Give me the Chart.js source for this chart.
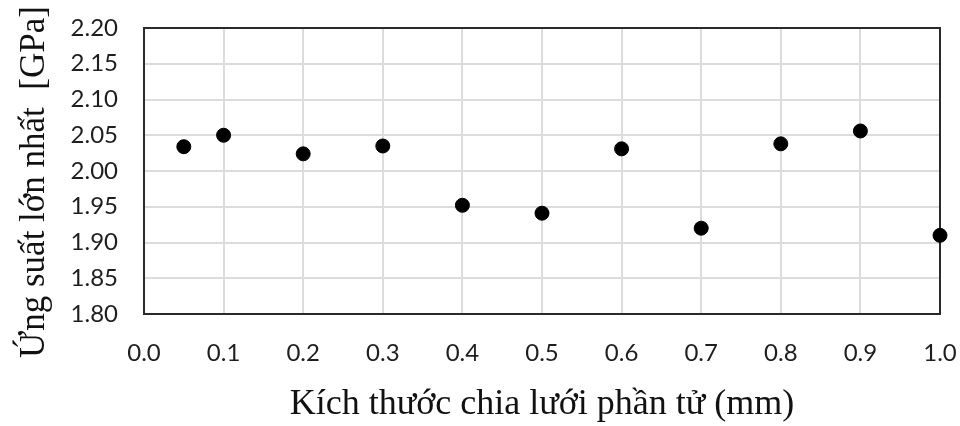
<!DOCTYPE html>
<html>
<head>
<meta charset="utf-8">
<script src="https://cdn.jsdelivr.net/npm/chart.js@4.4.0/dist/chart.umd.min.js"></script>
<style>
  body { margin: 0; background: #fff; }
</style>
</head>
<body>
<div style="width:960px;height:426px"><canvas id="stressChart"></canvas></div>
<script>
// mesh size (mm) vs max stress (GPa)
var meshSize = [0.05, 0.1, 0.2, 0.3, 0.4, 0.5, 0.6, 0.7, 0.8, 0.9, 1.0];
var maxStress = [2.034, 2.050, 2.024, 2.035, 1.952, 1.941, 2.031, 1.920, 2.038, 2.056, 1.910];

var xTitle = 'Kích thước chia lưới phần tử (mm)';
var yTitle = 'Ứng suất lớn nhất  [GPa]';

// frame around the plot area + y title (drawn by hand so it isn't squeezed to the axis height)
var framePlugin = {
  id: 'frame',
  beforeDatasetsDraw: function (chart) {
    var a = chart.chartArea, ctx = chart.ctx;
    ctx.save();
    ctx.strokeStyle = '#2a2a2a';
    ctx.lineWidth = 2;
    ctx.strokeRect(a.left, a.top, a.right - a.left, a.bottom - a.top);
    ctx.restore();
  },
  afterDraw: function (chart) {
    var ctx = chart.ctx;
    ctx.save();
    ctx.translate(35, 182);
    ctx.rotate(-Math.PI / 2);
    ctx.font = '35px "Liberation Serif"';
    ctx.fillStyle = '#111';
    ctx.textAlign = 'center';
    ctx.textBaseline = 'middle';
    ctx.fillText(yTitle, 0, 0);
    ctx.restore();
  }
};

var pts = meshSize.map(function (x, i) { return { x: x, y: maxStress[i] }; });

new Chart(document.getElementById('stressChart'), {
  type: 'scatter',
  data: {
    datasets: [{
      data: pts,
      backgroundColor: '#000',
      borderColor: '#000',
      pointRadius: 7,
      pointHoverRadius: 7,
      clip: false
    }]
  },
  options: {
    responsive: true,
    maintainAspectRatio: false,
    animation: false,
    layout: { padding: { top: 28, right: 20, left: 0, bottom: 0 } },
    plugins: { legend: { display: false }, tooltip: { enabled: false } },
    scales: {
      x: {
        min: 0, max: 1,
        ticks: {
          stepSize: 0.1,
          padding: 25,
          color: '#1e1e1e',
          font: { family: 'Lato', size: 24 },
          callback: function (v) { return Number(v).toFixed(1); }
        },
        grid: { color: '#dcdcdc', lineWidth: 2, drawTicks: false },
        border: { display: false },
        title: {
          display: true,
          text: xTitle,
          color: '#111',
          font: { family: 'Liberation Serif', size: 36 },
          padding: { top: 0, bottom: 0 }
        },
        afterFit: function (s) {
          s.height = 112;
          s.paddingLeft = 0; s.paddingRight = 0;
        }
      },
      y: {
        min: 1.8, max: 2.2,
        ticks: {
          stepSize: 0.05,
          padding: 26,
          color: '#1e1e1e',
          font: { family: 'Lato', size: 24 },
          callback: function (v) { return Number(v).toFixed(2); }
        },
        grid: { color: '#dcdcdc', lineWidth: 2, drawTicks: false },
        border: { display: false },
        afterFit: function (s) {
          s.width = 144;
          s.paddingTop = 0; s.paddingBottom = 0;
        }
      }
    }
  },
  plugins: [framePlugin]
});
</script>
</body>
</html>
